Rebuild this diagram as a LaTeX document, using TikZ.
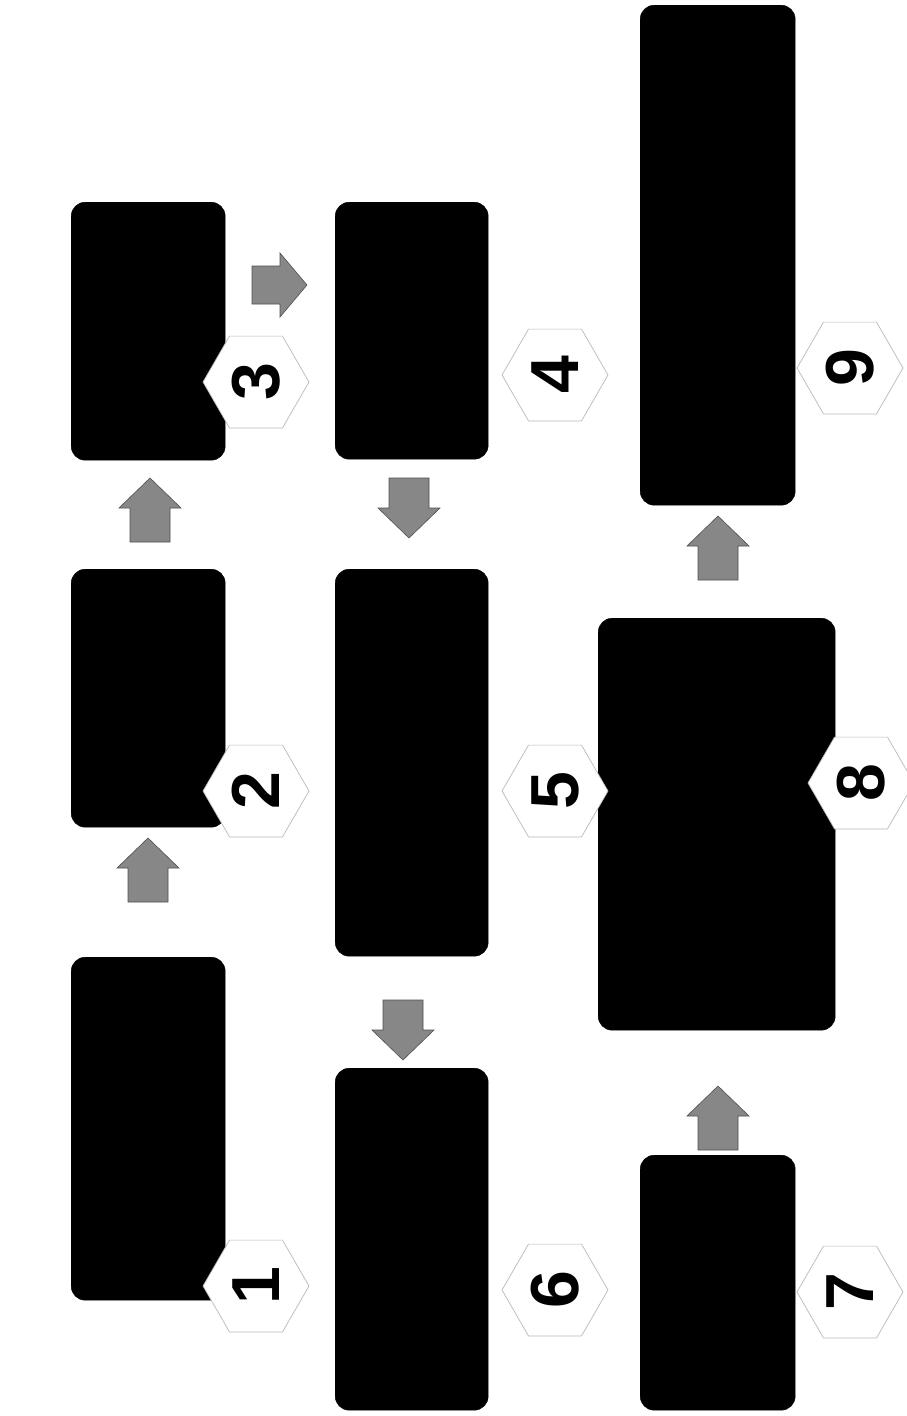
\documentclass[tikz,border=0pt]{standalone}
\usepackage{fontspec}
\setmainfont{Liberation Sans}
\usetikzlibrary{shapes.geometric}
\tikzset{
  box/.style={fill=black, draw=black, rounded corners=14pt, anchor=north west, inner sep=0pt},
  hexa/.style={shape=regular polygon, regular polygon sides=6, minimum size=106pt, inner sep=0pt,
               fill=white, draw=gray!55, line width=0.7pt,
               font=\bfseries\fontsize{68}{68}\selectfont},
  arrowfill/.style={fill={rgb,255:red,135;green,135;blue,135}, draw={rgb,255:red,80;green,80;blue,80}, line width=0.6pt},
  uparrow/.pic={\path[arrowfill] (-20,32) -- (-20,-2) -- (-31,-2) -- (0,-32) -- (31,-2) -- (20,-2) -- (20,32) -- cycle;},
  downarrow/.pic={\path[arrowfill] (-20,-30) -- (-20,0) -- (-31,0) -- (0,30) -- (31,0) -- (20,0) -- (20,-30) -- cycle;},
  rightarrow/.pic={\path[arrowfill] (-28,-19) -- (0,-19) -- (0,-32) -- (27,0) -- (0,32) -- (0,19) -- (-28,19) -- cycle;}
}
\begin{document}
\begin{tikzpicture}[x=1pt, y=-1pt]
\useasboundingbox[fill=white] (0,0) rectangle (906,1416);
% boxes
\node[box, minimum width=154pt, minimum height=343pt] (b1) at (71,957) {};
\node[box, minimum width=154pt, minimum height=258pt] (b2) at (71,569) {};
\node[box, minimum width=154pt, minimum height=258pt] (b3) at (71,202) {};
\node[box, minimum width=153pt, minimum height=257pt] (b4) at (335,202) {};
\node[box, minimum width=153pt, minimum height=387pt] (b5) at (335,569) {};
\node[box, minimum width=153pt, minimum height=342pt] (b6) at (335,1068) {};
\node[box, minimum width=155pt, minimum height=255pt] (b7) at (640,1155) {};
\node[box, minimum width=237pt, minimum height=412pt] (b8) at (598,618) {};
\node[box, minimum width=155pt, minimum height=500pt] (b9) at (640,5) {};
% hexagon labels
\node[hexa] (h1) at (256,1286) {\rotatebox{90}{1}};
\node[hexa] (h2) at (256,791) {\rotatebox{90}{2}};
\node[hexa] (h3) at (256,382) {\rotatebox{90}{3}};
\node[hexa] (h4) at (555,375) {\rotatebox{90}{4}};
\node[hexa] (h5) at (555,791) {\rotatebox{90}{5}};
\node[hexa] (h6) at (555,1290) {\rotatebox{90}{6}};
\node[hexa] (h7) at (850,1292) {\rotatebox{90}{7}};
\node[hexa] (h8) at (861,783) {\rotatebox{90}{8}};
\node[hexa] (h9) at (850,368) {\rotatebox{90}{9}};
% block arrows
\pic at (148,870) {uparrow};
\pic at (150,510) {uparrow};
\pic at (280,285) {rightarrow};
\pic at (409,508) {downarrow};
\pic at (403,1030) {downarrow};
\pic at (718,1118) {uparrow};
\pic at (718,548) {uparrow};
\end{tikzpicture}
\end{document}
